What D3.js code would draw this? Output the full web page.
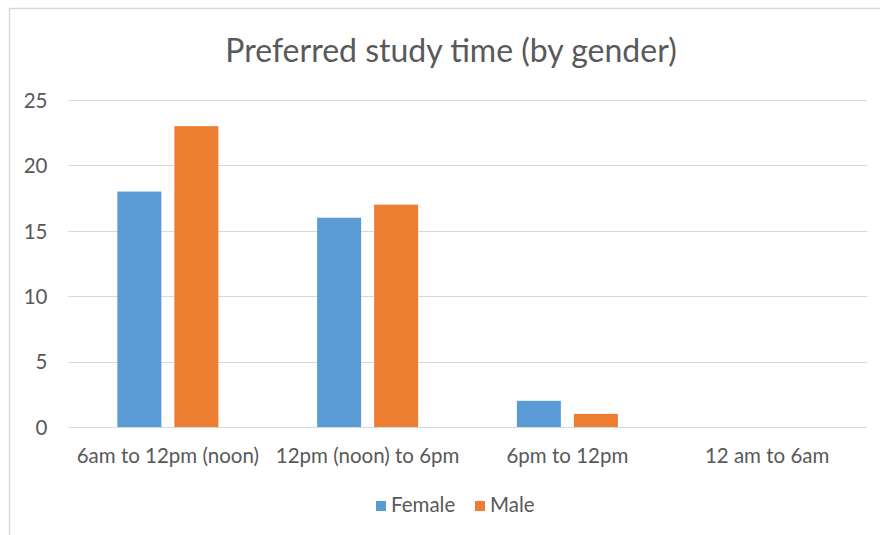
<!DOCTYPE html>
<html>
<head>
<meta charset="utf-8">
<script src="https://cdn.jsdelivr.net/npm/d3@7"></script>
<style>
  html, body { margin: 0; padding: 0; background: #ffffff; }
  svg { display: block; }
  svg text { font-family: Lato, "Open Sans", sans-serif; }
</style>
</head>
<body>
<svg id="chart" width="880" height="535"></svg>
<script>
// Survey answers: preferred study time, counted by gender
const categories = ["6am to 12pm (noon)", "12pm (noon) to 6pm", "6pm to 12pm", "12 am to 6am"];
const seriesNames = ["Female", "Male"];
const femaleValues = [18, 16, 2, 0];
const maleValues = [23, 17, 1, 0];
const yTicks = [0, 5, 10, 15, 20, 25];
const chartTitle = "Preferred study time (by gender)";

const colors = { Female: "#5b9bd5", Male: "#ed7d31" };
const seriesValues = { Female: femaleValues, Male: maleValues };

const svg = d3.select("#chart");
const W = 880, H = 535;
const plot = { left: 68, right: 867, top: 100, bottom: 427 };
const textColor = "#595959";
const labelSize = "20.5px";

// Chart frame
svg.append("rect")
  .attr("x", 9.5).attr("y", 8.5)
  .attr("width", W + 20).attr("height", H + 20)
  .attr("fill", "#ffffff")
  .attr("stroke", "#d9d9d9")
  .attr("stroke-width", 1.5);

// Scales
const x0 = d3.scaleBand().domain(categories).range([plot.left, plot.right]).paddingInner(0).paddingOuter(0);
const x1 = d3.scaleBand().domain(seriesNames).range([0, x0.bandwidth()])
  .paddingInner(0.228).paddingOuter(0.866);
const y = d3.scaleLinear().domain([0, 25]).range([plot.bottom, plot.top]);

// Gridlines
svg.append("g").selectAll("line").data(yTicks).join("line")
  .attr("x1", plot.left).attr("x2", plot.right)
  .attr("y1", d => Math.round(y(d)) + 0.5).attr("y2", d => Math.round(y(d)) + 0.5)
  .attr("stroke", "#d9d9d9").attr("stroke-width", 1.2);

// Y axis labels
const yAxis = d3.axisLeft(y).tickValues(yTicks).tickSize(0).tickPadding(0);
const gy = svg.append("g").attr("transform", `translate(47.5,0)`).call(yAxis)
  .attr("font-family", null).attr("font-size", null);
gy.select(".domain").remove();
gy.selectAll("text")
  .attr("fill", textColor)
  .style("font-size", labelSize)
  .attr("dy", "0.36em");

// X axis labels
const xAxis = d3.axisBottom(x0).tickSize(0).tickPadding(0);
const gx = svg.append("g").attr("transform", `translate(0,${plot.bottom})`).call(xAxis)
  .attr("font-family", null).attr("font-size", null);
gx.select(".domain").remove();
gx.selectAll("text")
  .attr("fill", textColor)
  .style("font-size", labelSize)
  .attr("y", 36).attr("dy", 0);

// Bars
const rows = categories.map((c, i) => ({ category: c, values: seriesNames.map(s => ({ series: s, value: seriesValues[s][i] })) }));
svg.append("g").selectAll("g").data(rows).join("g")
  .attr("transform", d => `translate(${x0(d.category)},0)`)
  .selectAll("rect").data(d => d.values).join("rect")
  .attr("x", d => x1(d.series))
  .attr("width", x1.bandwidth())
  .attr("y", d => y(d.value))
  .attr("height", d => y(0) - y(d.value))
  .attr("fill", d => colors[d.series]);

// Title
svg.append("text")
  .attr("x", 451).attr("y", 62)
  .attr("text-anchor", "middle")
  .attr("fill", textColor)
  .style("font-size", "32px")
  .text(chartTitle);

// Legend
const legendItems = [
  { name: "Female", x: 376 },
  { name: "Male", x: 475 }
];
const lg = svg.append("g").selectAll("g").data(legendItems).join("g")
  .attr("transform", d => `translate(${d.x},501)`);
lg.append("rect").attr("width", 10).attr("height", 10).attr("fill", d => colors[d.name]);
lg.append("text")
  .attr("x", 15).attr("y", 11)
  .attr("fill", textColor)
  .style("font-size", labelSize)
  .text(d => d.name);
</script>
</body>
</html>
